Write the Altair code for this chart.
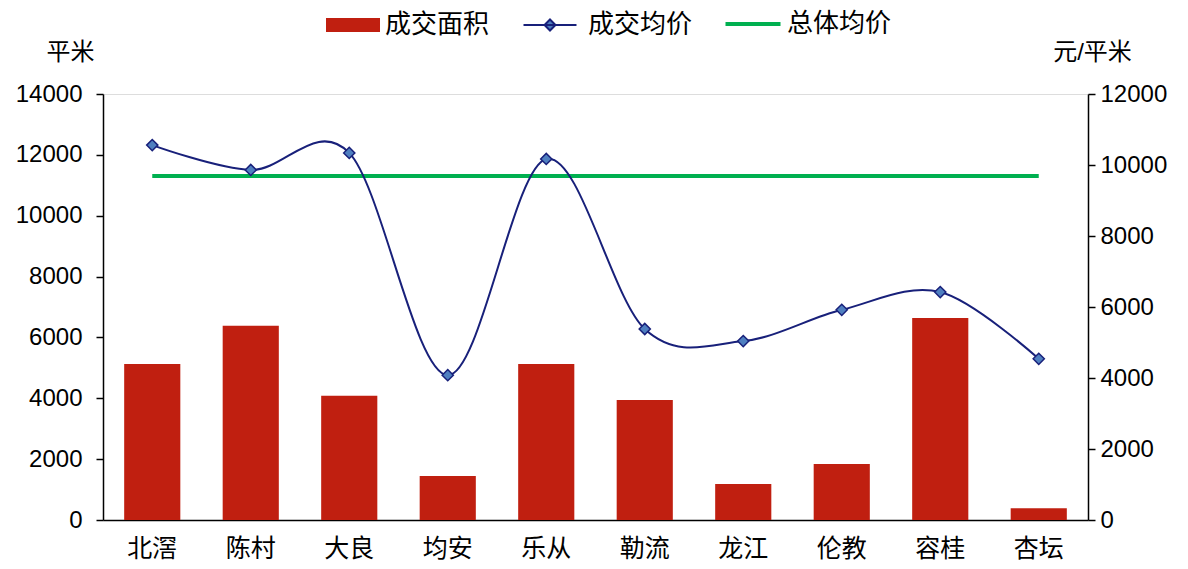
import altair as alt
import pandas as pd

cats = ["北滘", "陈村", "大良", "均安", "乐从", "勒流", "龙江", "伦教", "容桂", "杏坛"]
area = [5130, 6380, 4080, 1450, 5130, 3940, 1180, 1840, 6640, 390]
price = [10560, 9860, 10340, 4080, 10170, 5380, 5040, 5920, 6420, 4540]
overall_price = 9690

left_ticks = list(range(0, 14001, 2000))
right_ticks = list(range(0, 12001, 2000))

RED = "#C01F10"
NAVY = "#18207A"
MARKER = "#4F7FC0"
GREEN = "#00B050"
FONT = "Liberation Sans, Noto Sans CJK SC"
FS = 24

df = pd.DataFrame({
    "cat": cats,
    "area": area,
    "price": price,
    "overall": [overall_price] * len(cats),
    "s1": ["成交面积"] * len(cats),
    "s2": ["成交均价"] * len(cats),
    "s3": ["总体均价"] * len(cats),
})

x_enc = alt.X(
    "cat:N", sort=cats,
    scale=alt.Scale(paddingInner=0.43, paddingOuter=0.215),
    axis=alt.Axis(title=None, labelAngle=0, ticks=False, labelPadding=16,
                  labelFontSize=25, labelFont=FONT, labelColor="black",
                  domainColor="black", domainWidth=1.5),
)

left_axis = alt.Axis(
    orient="left", title="平米", titleAngle=0, titleX=-33, titleY=-42,
    titleAlign="center", titleBaseline="middle", titleFontSize=FS,
    titleFont=FONT, titleFontWeight="normal", titleColor="black",
    values=left_ticks, format="d", grid=False, domainColor="black",
    domainWidth=1.5, tickColor="black", tickSize=7, tickWidth=1.5,
    labelPadding=14, labelFontSize=FS, labelFont=FONT, labelColor="black",
)

right_axis = alt.Axis(
    orient="right", title="元/平米", titleAngle=0, titleX=4, titleY=-42,
    titleAlign="center", titleBaseline="middle", titleFontSize=FS,
    titleFont=FONT, titleFontWeight="normal", titleColor="black",
    values=right_ticks, format="d", grid=False, domainColor="black",
    domainWidth=1.5, tickColor="black", tickSize=7, tickWidth=1.5,
    labelPadding=5, labelFontSize=FS, labelFont=FONT, labelColor="black",
)

rscale = alt.Scale(domain=[0, 12000], nice=False)

def leg(x, y, sym, size, offset, stroke_w=0, fill_col=None):
    kw = dict(orient="none", legendX=x, legendY=y, title=None, padding=0,
              symbolType=sym, symbolSize=size, labelOffset=offset,
              labelFontSize=26, labelFont=FONT, labelColor="black",
              symbolStrokeWidth=stroke_w, symbolOpacity=1)
    if fill_col:
        kw["symbolFillColor"] = fill_col
    return alt.Legend(**kw)

bars = alt.Chart(df).mark_bar().encode(
    x=x_enc,
    y=alt.Y("area:Q", scale=alt.Scale(domain=[0, 14000], nice=False), axis=left_axis),
    color=alt.Color("s1:N", scale=alt.Scale(domain=["成交面积"], range=[RED]),
                    legend=leg(237, -82, "M-3.857,-1H3.857V1H-3.857Z", 196, 19)),
)

line_b = alt.Chart(df).mark_line(interpolate="cardinal", tension=0, strokeWidth=2).encode(
    x=x_enc,
    y=alt.Y("price:Q", scale=rscale, axis=right_axis),
    color=alt.Color("s2:N", scale=alt.Scale(domain=["成交均价"], range=[NAVY]),
                    legend=leg(434, -82, "M-4.818,0H4.818M0,-1L1,0L0,1L-1,0Z",
                               121, 25, 2, MARKER)),
)

pts = alt.Chart(df).mark_point(shape="diamond", filled=True, fill=MARKER, stroke=NAVY,
                               strokeWidth=1.5, size=125, opacity=1).encode(
    x=x_enc,
    y=alt.Y("price:Q", scale=rscale, axis=right_axis),
)

green = alt.Chart(df).mark_line(strokeWidth=4).encode(
    x=x_enc,
    y=alt.Y("overall:Q", scale=rscale, axis=right_axis),
    color=alt.Color("s3:N", scale=alt.Scale(domain=["总体均价"], range=[GREEN]),
                    legend=leg(637, -83, "M-5.5,0H5.5", 100, 21, 4)),
)

inner = alt.layer(green, line_b, pts).resolve_scale(color="independent")

chart = alt.layer(bars, inner).resolve_scale(
    y="independent", color="independent"
).properties(
    width=985, height=426,
    autosize=alt.AutoSizeParams(type="none"),
    padding={"left": 95, "top": 86, "right": 92, "bottom": 41},
).configure_view(stroke=None).configure(background="white")

chart.save("out.html", embed_options={"renderer": "svg", "actions": False})
